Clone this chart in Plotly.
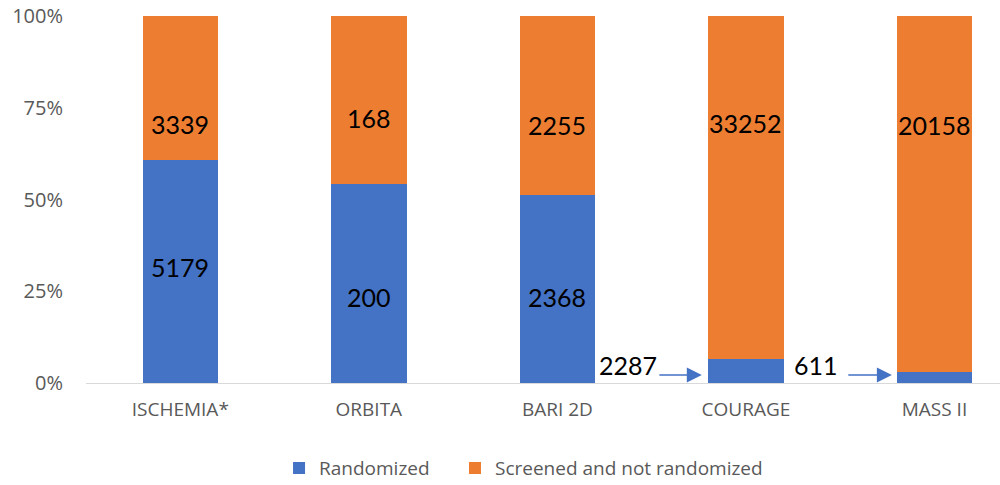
import plotly.graph_objects as go

categories = ["ISCHEMIA*", "ORBITA", "BARI 2D", "COURAGE", "MASS II"]
randomized = [5179, 200, 2368, 2287, 611]
not_randomized = [3339, 168, 2255, 33252, 20158]
y_ticks = [0, 25, 50, 75, 100]
y_tick_labels = ["0%", "25%", "50%", "75%", "100%"]

# label placement (percent of bar height) as in the original figure
orange_label_y = [70.6, 72.2, 70.3, 70.8, 70.3]
blue_label_y = [31.6, 23.4, 23.4, None, None]

BLUE = "#4472C4"
ORANGE = "#ED7D31"
GRAY = "#595959"
NUM_FONT = "Lato"
AX_FONT = "Open Sans"

fig = go.Figure()
fig.add_trace(go.Bar(x=categories, y=randomized, name="Randomized", legend="legend",
                     marker=dict(color=BLUE, line_width=0), width=0.4))
fig.add_trace(go.Bar(x=categories, y=not_randomized, name="Screened and not randomized",
                     legend="legend2", marker=dict(color=ORANGE, line_width=0), width=0.4))

annotations = []
for i, c in enumerate(categories):
    annotations.append(dict(x=i, y=orange_label_y[i], xref="x", yref="y", text=str(not_randomized[i]),
                            showarrow=False, font=dict(size=25, color="black", family=NUM_FONT)))
    if blue_label_y[i] is not None:
        annotations.append(dict(x=i, y=blue_label_y[i], xref="x", yref="y", text=str(randomized[i]),
                                showarrow=False, font=dict(size=25, color="black", family=NUM_FONT)))

# outside labels with arrows for thin segments
outside = [(3, 2.374, 2.533, 2.766), (4, 3.371, 3.535, 3.774)]
for idx, tx, ax0, ax1 in outside:
    annotations.append(dict(x=tx, y=4.9, xref="x", yref="y", text=str(randomized[idx]),
                            showarrow=False, font=dict(size=25, color="black", family=NUM_FONT)))
    annotations.append(dict(x=ax1, y=2.2, ax=ax0, ay=2.2, xref="x", yref="y", axref="x", ayref="y",
                            text="", showarrow=True, arrowhead=2, arrowsize=2.0, arrowwidth=1.5,
                            arrowcolor=BLUE))

legend_style = dict(orientation="h", xanchor="left", y=-0.232, yanchor="middle",
                    font=dict(size=19, color=GRAY, family=AX_FONT), itemwidth=30,
                    bgcolor="rgba(0,0,0,0)")

fig.update_layout(
    barmode="stack", barnorm="percent",
    width=1000, height=485,
    margin=dict(l=86, r=0, t=16, b=102, autoexpand=False),
    paper_bgcolor="white", plot_bgcolor="white",
    font=dict(family=AX_FONT, color=GRAY, size=19),
    showlegend=True,
    legend=dict(x=0.2112, **legend_style),
    legend2=dict(x=0.4037, **legend_style),
    annotations=annotations,
    xaxis=dict(range=[-0.5, 4.3475], showline=True, linecolor="#D9D9D9", linewidth=1,
               ticks="", tickfont=dict(size=19, color=GRAY), showgrid=False, fixedrange=True,
               automargin=False, ticklabelstandoff=9),
    yaxis=dict(range=[0, 100], tickvals=y_ticks, ticktext=y_tick_labels, showgrid=False,
               zeroline=False, showline=False, ticks="", ticklabelstandoff=22,
               tickfont=dict(size=20, color=GRAY), automargin=False, fixedrange=True),
)

fig.write_html("out.html", config={"displayModeBar": False},
               post_script="document.body.style.margin='0';")
